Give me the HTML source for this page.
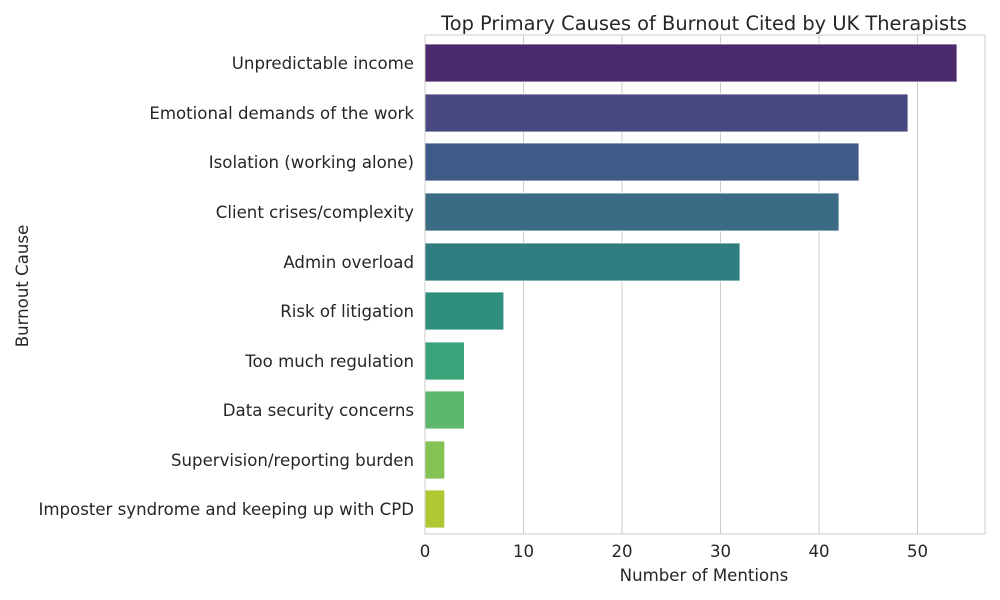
<!DOCTYPE html>
<html><head><style>body{margin:0;background:#fff}svg{display:block}text{font-family:"DejaVu Sans","Liberation Sans",sans-serif;fill:#262626}</style></head>
<body>
<svg width="1000" height="600" viewBox="0 0 1000 600">
<rect width="1000" height="600" fill="#fff"/>
<g stroke="#cccccc" stroke-width="1">
<line x1="523.5" y1="35" x2="523.5" y2="534"/>
<line x1="622" y1="35" x2="622" y2="534"/>
<line x1="720.5" y1="35" x2="720.5" y2="534"/>
<line x1="819" y1="35" x2="819" y2="534"/>
<line x1="917.5" y1="35" x2="917.5" y2="534"/>
</g>
<g stroke="#fff" stroke-width="0.8">
<rect x="425" y="44" width="532" height="38" fill="#4a2a6a"/>
<rect x="425" y="94" width="483" height="38" fill="#4a4880"/>
<rect x="425" y="143" width="434" height="38" fill="#405a88"/>
<rect x="425" y="193" width="414" height="38" fill="#3a6c84"/>
<rect x="425" y="243" width="315" height="38" fill="#2f7d7f"/>
<rect x="425" y="292" width="78.8" height="38" fill="#2e8f7c"/>
<rect x="425" y="342" width="39.4" height="38" fill="#3aa37a"/>
<rect x="425" y="391" width="39.4" height="38" fill="#5db86d"/>
<rect x="425" y="441" width="19.7" height="38" fill="#84c353"/>
<rect x="425" y="490" width="19.7" height="38" fill="#afc832"/>
</g>
<rect x="425" y="35" width="560" height="499" fill="none" stroke="#cccccc" stroke-width="1"/>
<g font-size="16.6" text-anchor="end">
<text x="414" y="69">Unpredictable income</text>
<text x="414" y="119">Emotional demands of the work</text>
<text x="414" y="168">Isolation (working alone)</text>
<text x="414" y="218">Client crises/complexity</text>
<text x="414" y="268">Admin overload</text>
<text x="414" y="317">Risk of litigation</text>
<text x="414" y="367">Too much regulation</text>
<text x="414" y="416">Data security concerns</text>
<text x="414" y="466">Supervision/reporting burden</text>
<text x="414" y="515">Imposter syndrome and keeping up with CPD</text>
</g>
<g font-size="16.6" text-anchor="middle">
<text x="425" y="557">0</text>
<text x="523.5" y="557">10</text>
<text x="622" y="557">20</text>
<text x="720.5" y="557">30</text>
<text x="819" y="557">40</text>
<text x="917.5" y="557">50</text>
<text x="704" y="581">Number of Mentions</text>
<text x="704" y="30" font-size="19.4">Top Primary Causes of Burnout Cited by UK Therapists</text>
<text transform="translate(28,286) rotate(-90)">Burnout Cause</text>
</g>
</svg>
</body></html>
